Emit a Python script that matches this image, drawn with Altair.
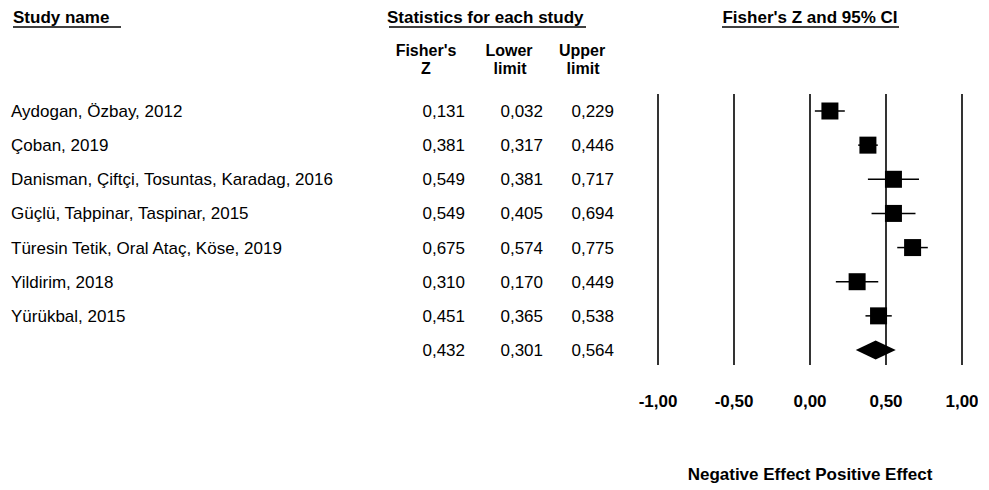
import altair as alt
import pandas as pd

# ---------------- data ----------------
studies = [
    "Aydogan, Özbay, 2012",
    "Çoban, 2019",
    "Danisman, Çiftçi, Tosuntas, Karadag, 2016",
    "Güçlü, Taþpinar, Taspinar, 2015",
    "Türesin Tetik, Oral Ataç, Köse, 2019",
    "Yildirim, 2018",
    "Yürükbal, 2015",
]
fisher_z = [0.131, 0.381, 0.549, 0.549, 0.675, 0.310, 0.451]
lower = [0.032, 0.317, 0.381, 0.405, 0.574, 0.170, 0.365]
upper = [0.229, 0.446, 0.717, 0.694, 0.775, 0.449, 0.538]
summary_z = 0.432
summary_lo = 0.301
summary_hi = 0.564
tick_values = [-1.0, -0.5, 0.0, 0.5, 1.0]
tick_labels = ["-1,00", "-0,50", "0,00", "0,50", "1,00"]

FONT = "Liberation Sans"
FS = 17


def fmt(v):
    return f"{v:.3f}".replace(".", ",")


n = len(studies)
study_df = pd.DataFrame({
    "row": list(range(n)),
    "name": studies,
    "z": fisher_z,
    "lo": lower,
    "hi": upper,
})
table_df = pd.DataFrame({
    "row": list(range(n + 1)),
    "name": studies + [""],
    "z_txt": [fmt(v) for v in fisher_z + [summary_z]],
    "lo_txt": [fmt(v) for v in lower + [summary_lo]],
    "hi_txt": [fmt(v) for v in upper + [summary_hi]],
})
half = 0.278  # diamond half-height in row units
diamond_df = pd.DataFrame({
    "x": [summary_lo, summary_z, summary_hi],
    "y": [n, n - half, n],
    "y2": [n, n + half, n],
})
ticks_df = pd.DataFrame({"t": tick_values, "lab": tick_labels})

xs = alt.Scale(domain=[-1, 1], range=[650, 954], zero=False, nice=False)
ys = alt.Scale(domain=[0, n], range=[103, 342], zero=False, nice=False)

vlines = alt.Chart(ticks_df).mark_rule(color="black", strokeWidth=1.6).encode(
    x=alt.X("t:Q", scale=xs, axis=None),
    y=alt.value(86),
    y2=alt.value(357),
)

ci = alt.Chart(study_df).mark_rule(color="black", strokeWidth=1.5).encode(
    x=alt.X("lo:Q", scale=xs, axis=None),
    x2="hi:Q",
    y=alt.Y("row:Q", scale=ys, axis=None),
)

squares = alt.Chart(study_df).mark_square(
    size=289, color="black", filled=True, opacity=1
).encode(
    x=alt.X("z:Q", scale=xs, axis=None),
    y=alt.Y("row:Q", scale=ys, axis=None),
)

diamond = alt.Chart(diamond_df).mark_area(
    color="black", orient="vertical", opacity=1
).encode(
    x=alt.X("x:Q", scale=xs, axis=None),
    y=alt.Y("y:Q", scale=ys, axis=None),
    y2="y2:Q",
)


def col_text(field, xpos, align):
    return alt.Chart(table_df).mark_text(
        font=FONT, fontSize=FS, align=align, baseline="middle", color="black", dy=1
    ).encode(
        x=alt.value(xpos),
        y=alt.Y("row:Q", scale=ys, axis=None),
        text=f"{field}:N",
    )


names = col_text("name", 3, "left")
zcol = col_text("z_txt", 457, "right")
locol = col_text("lo_txt", 535, "right")
hicol = col_text("hi_txt", 606, "right")

tick_text = alt.Chart(ticks_df).mark_text(
    font=FONT, fontSize=FS, fontWeight="bold", align="center", baseline="middle", color="black"
).encode(
    x=alt.X("t:Q", scale=xs, axis=None),
    y=alt.value(394),
    text="lab:N",
)


def label(txt, x, y, align="left", bold=True, baseline="alphabetic", size=FS):
    return alt.Chart(pd.DataFrame({"t": [txt]})).mark_text(
        font=FONT, fontSize=size, fontWeight="bold" if bold else "normal",
        align=align, baseline=baseline, color="black",
    ).encode(x=alt.value(x), y=alt.value(y), text="t:N")


def underline(x1, x2, y):
    return alt.Chart(pd.DataFrame({"a": [0]})).mark_rule(
        color="black", strokeWidth=1.5
    ).encode(x=alt.value(x1), x2=alt.value(x2), y=alt.value(y))


HY = 15  # header baseline
headers = [
    label("Study name", 5, HY),
    underline(5, 113, HY + 4),
    label("Statistics for each study", 379, HY),
    underline(381, 578, HY + 4),
    label("Fisher's Z and 95% CI", 802, HY, align="center"),
    underline(714, 891, HY + 4),
    label("Fisher's", 418, 48, align="center", size=16),
    label("Z", 418, 66, align="center", size=16),
    label("Lower", 501, 48, align="center", size=16),
    label("limit", 502, 66, align="center", size=16),
    label("Upper", 574, 48, align="center", size=16),
    label("limit", 575, 66, align="center", size=16),
    label("Negative Effect Positive Effect", 802, 472, align="center"),
]

chart = alt.layer(
    vlines, ci, squares, diamond, names, zcol, locol, hicol, tick_text, *headers
).properties(
    width=970, height=480, padding=0, autosize="none", background="white"
).configure_view(stroke=None)

chart.save("out.html", embed_options={"renderer": "svg", "actions": False})
